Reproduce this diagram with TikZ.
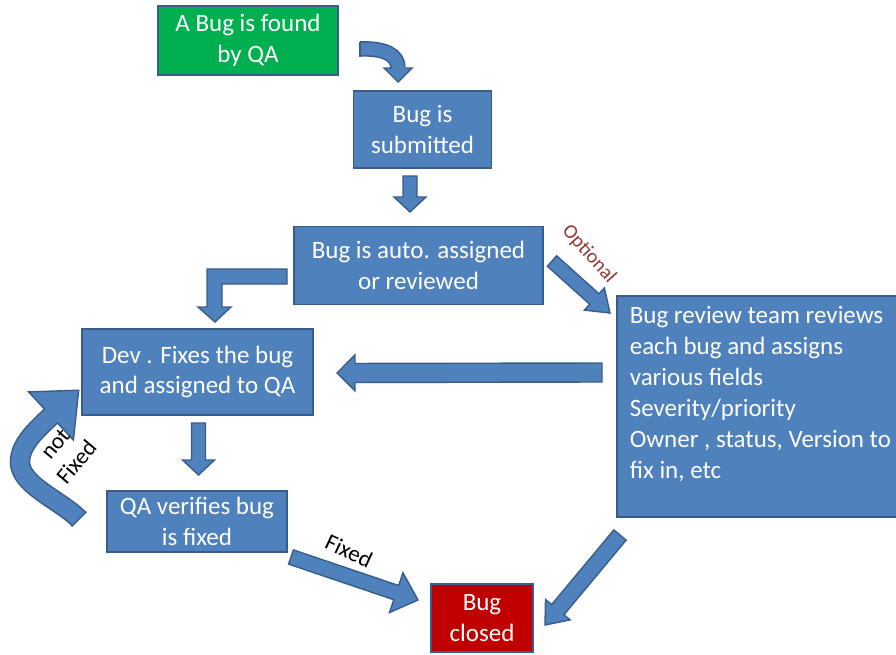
\documentclass[tikz,border=0pt]{standalone}
\usepackage{fontspec}
\setmainfont{Carlito}
\usetikzlibrary{calc}
\definecolor{bfill}{HTML}{4F81BD}
\definecolor{bline}{HTML}{385D8A}
\definecolor{gfill}{HTML}{00B050}
\definecolor{rfill}{HTML}{C00000}
\definecolor{optc}{HTML}{953735}
\tikzset{
  stepbox/.style={draw=bline, fill=bfill, line width=1.6pt, text=white, align=center,
    inner sep=0pt, font=\fontsize{25}{30.5}\selectfont},
  blockarrow/.style={draw=bline, fill=bfill, line width=1.4pt, line join=miter},
  lbl/.style={font=\fontsize{23}{28}\selectfont, align=center, inner sep=0pt},
}
% straight block arrow: from, to, half shaft width, half head width, head length
\newcommand\blockarrowpath[5]{%
  \coordinate (tmpH) at ($(#2)!#5!(#1)$);
  \filldraw[blockarrow] ($(#1)!#3!90:(#2)$) -- ($(tmpH)!#3!-90:(#1)$) -- ($(tmpH)!#4!-90:(#1)$)
    -- (#2) -- ($(tmpH)!#4!90:(#1)$) -- ($(tmpH)!#3!90:(#1)$) -- ($(#1)!#3!-90:(#2)$) -- cycle;}
\begin{document}
\begin{tikzpicture}[x=1pt,y=-1pt]
\useasboundingbox (0,0) rectangle (896,654);
\clip (0,0) rectangle (896,654);

% boxes
\node[stepbox, fill=gfill, minimum width=180pt, minimum height=69pt] (found) at (248,40.5) {A Bug is found\\by QA};
\node[stepbox, minimum width=138pt, minimum height=77pt] (sub) at (422.5,129.5) {Bug is\\submitted};
\node[stepbox, minimum width=249pt, minimum height=78pt] (auto) at (418.5,265.5) {Bug is auto. assigned\\or reviewed};
\node[stepbox, minimum width=231pt, minimum height=86pt] (dev) at (197.5,372) {Dev . Fixes the bug\\and assigned to QA};
\node[stepbox, minimum width=180pt, minimum height=61pt] (qa) at (197,521.5) {QA verifies bug\\is fixed};
\node[stepbox, fill=rfill, minimum width=102pt, minimum height=68pt] (closed) at (482,618) {Bug\\closed};
\node[stepbox, minimum width=293pt, minimum height=221pt] (review) at (763.5,406.5) {};
\node[stepbox, draw=none, fill=none, align=left, anchor=north west, font=\fontsize{25}{31}\selectfont] (reviewtext) at (629,305)
  {Bug review team reviews\\each bug and assigns\\various fields\\Severity/priority\\Owner , status, Version to\\fix in, etc};

% curved arrow found -> submitted
\coordinate (c1s) at (360,49);
\coordinate (c1e) at (398,68);
\coordinate (c1t) at (398,82);
\draw[bline, line width=15.5pt] (c1s) .. controls (385,48) and (398,55) .. (c1e);
\draw[bfill, line width=12.5pt] (c1s) .. controls (385,48) and (398,55) .. (c1e);
\filldraw[blockarrow] (384,68) -- (c1t) -- (412,68) -- cycle;
\draw[bfill, line width=12.5pt] (398,66) -- (398,69.5);
\draw[bline, line width=1.4pt] (360,41.5) -- (360,56.5);

% submitted -> auto
\coordinate (a2s) at (410,176);
\coordinate (a2e) at (410,212);
\blockarrowpath{a2s}{a2e}{7pt}{16pt}{15pt}

% bent arrow auto -> dev
\filldraw[blockarrow] (287,269) -- (207,269) -- (207,307) -- (198,307) -- (215,322) -- (231,307)
  -- (222,307) -- (222,284) -- (287,284) -- cycle;

% optional arrow auto -> review
\coordinate (a4s) at (552,261);
\coordinate (a4e) at (610,313);
\blockarrowpath{a4s}{a4e}{7pt}{15pt}{21pt}
\node[font=\fontsize{20}{24}\selectfont, text=optc, rotate=-48, inner sep=0pt] (optlbl) at (589,254) {Optional};

% review -> dev
\coordinate (a5s) at (602,372.5);
\coordinate (a5e) at (337,373);
\blockarrowpath{a5s}{a5e}{9.5pt}{18pt}{18pt}

% dev -> qa
\coordinate (a6s) at (198.5,423);
\coordinate (a6e) at (198.5,475);
\blockarrowpath{a6s}{a6e}{7pt}{16pt}{15pt}

% qa -> closed (Fixed)
\coordinate (a7s) at (291,557);
\coordinate (a7e) at (418,600);
\blockarrowpath{a7s}{a7e}{7.5pt}{21pt}{23pt}
\node[lbl, rotate=-25] (fixlbl) at (349,551) {Fixed};

% review -> closed
\coordinate (a8s) at (620,535);
\coordinate (a8e) at (545,625);
\blockarrowpath{a8s}{a8e}{8pt}{16pt}{20pt}

% not fixed curved arrow qa -> dev
\coordinate (c2s) at (79,519);
\coordinate (c2e) at (51,416);
\coordinate (c2t) at (78.7,390.2);
\draw[bline, line width=20.5pt] (c2s) .. controls (60,500) and (20,485) .. (20,462) .. controls (20,445) and (35,431) .. (c2e);
\draw[bfill, line width=17.5pt] (c2s) .. controls (60,500) and (20,485) .. (20,462) .. controls (20,445) and (35,431) .. (c2e);
\filldraw[blockarrow] (28.6,391.9) -- (c2t) -- (73.4,440.1) -- cycle;
\draw[bfill, line width=17.5pt] (49.5,417.4) -- (52.5,414.6);
\draw[bline, line width=1.4pt] (86.4,511.6) -- (71.6,526.4);
\node[lbl, rotate=50] (nflbl) at (66,453) {not\\Fixed};
\end{tikzpicture}
\end{document}
